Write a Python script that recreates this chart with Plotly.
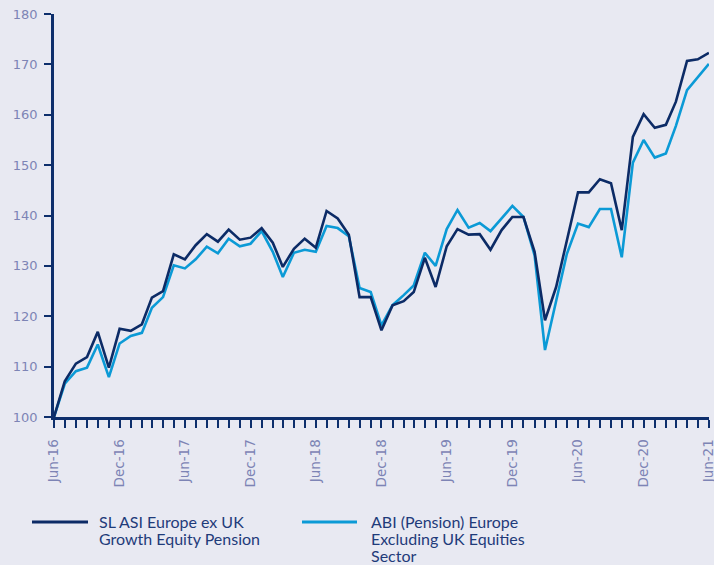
import pandas as pd
import plotly.graph_objects as go

# Monthly index values, Jun-2016 .. Jun-2021 (rebased to 100)
months = pd.date_range("2016-06-01", periods=61, freq="MS")

sl_asi_europe = [
    100.0, 107.1, 110.6, 111.9, 116.9, 109.8, 117.5, 117.1, 118.4, 123.7,
    125.0, 132.3, 131.3, 134.1, 136.3, 134.8, 137.2, 135.2, 135.6, 137.5,
    134.6, 129.8, 133.4, 135.4, 133.6, 140.9, 139.4, 136.2, 123.8, 123.8,
    117.2, 122.2, 123.0, 124.8, 131.6, 125.8, 133.9, 137.3, 136.2, 136.3,
    133.2, 137.1, 139.7, 139.7, 132.8, 119.2, 125.8, 135.1, 144.6, 144.6,
    147.2, 146.4, 137.1, 155.6, 160.1, 157.4, 158.0, 162.6, 170.7, 171.0,
    172.3,
]

abi_sector = [
    100.0, 106.6, 109.1, 109.8, 114.4, 107.9, 114.6, 116.1, 116.7, 121.7,
    123.8, 130.1, 129.5, 131.3, 133.8, 132.5, 135.4, 133.9, 134.4, 136.9,
    132.8, 127.8, 132.6, 133.2, 132.8, 137.9, 137.5, 135.9, 125.6, 124.8,
    118.2, 122.2, 124.2, 126.1, 132.6, 130.0, 137.3, 141.1, 137.6, 138.5,
    136.9, 139.4, 141.9, 139.7, 132.1, 113.3, 122.8, 132.4, 138.4, 137.7,
    141.3, 141.3, 131.7, 150.5, 155.0, 151.5, 152.3, 157.8, 164.9, 167.4,
    170.1,
]

series_names = [
    ["SL ASI Europe ex UK", "Growth Equity Pension"],
    ["ABI (Pension) Europe", "Excluding UK Equities", "Sector"],
]

x_tick_labels = ["Jun-16", "Dec-16", "Jun-17", "Dec-17", "Jun-18", "Dec-18",
                 "Jun-19", "Dec-19", "Jun-20", "Dec-20", "Jun-21"]
x_tick_vals = months[::6]
y_ticks = [100, 110, 120, 130, 140, 150, 160, 170, 180]

NAVY = "#0c2b66"
CYAN = "#0b9ad6"
AXIS = "#0d2e6c"
TICK_TEXT = "#7d84b5"
LEGEND_TEXT = "#1f3b7a"
BG = "#e8e9f2"

fig = go.Figure()
fig.add_trace(go.Scatter(x=months, y=abi_sector, mode="lines",
                         name=" ".join(series_names[1]),
                         line=dict(color=CYAN, width=2.6), showlegend=False))
fig.add_trace(go.Scatter(x=months, y=sl_asi_europe, mode="lines",
                         name=" ".join(series_names[0]),
                         line=dict(color=NAVY, width=2.6), showlegend=False))

# Plot-area geometry in pixels (used for the hand-drawn legend below)
W, H = 714, 565
ML, MR, MT, MB = 54, 5, 14, 148
pw, ph = W - ML - MR, H - MT - MB


def px_x(px):
    return (px - ML) / pw


def px_y(py):
    return (H - MB - py) / ph


shapes = []
annotations = []
legend_items = [
    (NAVY, 32, 88, 100, series_names[0]),
    (CYAN, 302, 357, 372, series_names[1]),
]
for color, x0, x1, tx, lines in legend_items:
    shapes.append(dict(type="line", xref="paper", yref="paper",
                       x0=px_x(x0), x1=px_x(x1), y0=px_y(522), y1=px_y(522),
                       line=dict(color=color, width=3)))
    for k, txt in enumerate(lines):
        annotations.append(dict(
            xref="paper", yref="paper", x=px_x(tx - 2), y=px_y(521 + 17 * k),
            xanchor="left", yanchor="middle", showarrow=False, text=txt,
            borderpad=0,
            font=dict(family="Lato, sans-serif", size=16, color=LEGEND_TEXT)))

# End the date axis a few hours past the last month so its label is kept
x_end = months[-1] + pd.Timedelta(hours=6)

fig.update_layout(
    width=W, height=H,
    margin=dict(l=ML, r=MR, t=MT, b=MB, pad=0),
    paper_bgcolor=BG, plot_bgcolor=BG,
    shapes=shapes, annotations=annotations,
    showlegend=False,
    font=dict(family="DejaVu Sans, sans-serif", size=13, color=TICK_TEXT),
)
fig.update_xaxes(
    type="date", range=[months[0], x_end], automargin=False,
    tickvals=x_tick_vals, ticktext=x_tick_labels, tickangle=-90,
    ticks="outside", ticklen=8, tickwidth=2.2, tickcolor=AXIS,
    minor=dict(ticks="outside", dtick="M1", ticklen=8, tickwidth=2.2,
               tickcolor=AXIS, showgrid=False),
    showline=True, linecolor=AXIS, linewidth=2.6,
    showgrid=False, zeroline=False, ticklabelstandoff=6,
    ticklabeloverflow="allow",
    tickfont=dict(size=13.5, color=TICK_TEXT),
)
fig.update_yaxes(
    range=[100, 180], tickvals=y_ticks, automargin=False,
    ticks="outside", ticklen=7, tickwidth=2.2, tickcolor=AXIS,
    showline=True, linecolor=AXIS, linewidth=2.6,
    showgrid=False, zeroline=False, ticklabelstandoff=4,
    tickfont=dict(size=13, color=TICK_TEXT),
)

fig.write_html("out.html")
